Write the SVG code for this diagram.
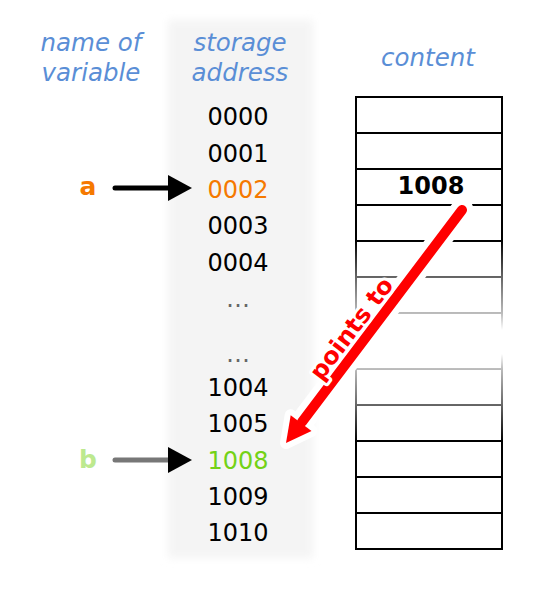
<svg xmlns="http://www.w3.org/2000/svg" width="541" height="600" viewBox="0 0 541 600">
<style>
.hdr{font-family:"DejaVu Sans",sans-serif;font-style:italic;font-size:24.5px;fill:#5a8ed6;text-anchor:middle}
.addr{font-family:"DejaVu Sans",sans-serif;font-size:24px;fill:#000;text-anchor:middle}
.cell{fill:none;stroke:#000;stroke-width:2}
.lbl{font-family:"DejaVu Sans",sans-serif;font-weight:bold;font-size:24px;text-anchor:middle}
</style>
<defs>
<filter id="blur" x="-20%" y="-5%" width="140%" height="110%"><feGaussianBlur stdDeviation="4"/></filter>
<linearGradient id="fade" gradientUnits="userSpaceOnUse" x1="0" y1="0" x2="0" y2="600">
<stop offset="0" stop-color="#fff"/>
<stop offset="0.40" stop-color="#fff"/>
<stop offset="0.462" stop-color="#999"/>
<stop offset="0.522" stop-color="#444"/>
<stop offset="0.55" stop-color="#000"/>
<stop offset="0.59" stop-color="#000"/>
<stop offset="0.615" stop-color="#444"/>
<stop offset="0.675" stop-color="#999"/>
<stop offset="0.735" stop-color="#fff"/>
<stop offset="1" stop-color="#fff"/>
</linearGradient>
<mask id="tmask" maskUnits="userSpaceOnUse" x="0" y="0" width="541" height="600">
<rect x="0" y="0" width="541" height="600" fill="url(#fade)"/>
</mask>
</defs>
<rect width="541" height="600" fill="#fff"/>
<rect x="168" y="20" width="145" height="538" fill="#f4f4f4" filter="url(#blur)"/>

<g id="headers">
<text class="hdr" x="91" y="51">name of</text>
<text class="hdr" x="91" y="81">variable</text>
<text class="hdr" x="240" y="51">storage</text>
<text class="hdr" x="240" y="81">address</text>
<text class="hdr" x="428" y="66">content</text>
</g>

<g id="addresses">
<text class="addr" x="238" y="125">0000</text>
<text class="addr" x="238" y="161.5">0001</text>
<text class="addr" x="238" y="198" style="fill:#f57900">0002</text>
<text class="addr" x="238" y="234">0003</text>
<text class="addr" x="238" y="270.5">0004</text>
<text class="addr" x="238" y="307" style="fill:#666">…</text>
<text class="addr" x="238" y="362" style="fill:#666">…</text>
<text class="addr" x="238" y="396">1004</text>
<text class="addr" x="238" y="432">1005</text>
<text class="addr" x="238" y="468.5" style="fill:#73d216">1008</text>
<text class="addr" x="238" y="504.5">1009</text>
<text class="addr" x="238" y="540.5">1010</text>
</g>

<g id="table" mask="url(#tmask)">
<rect class="cell" x="356" y="97" width="146" height="452"/>
<path class="cell" d="M356 133H502M356 169H502M356 205H502M356 241H502M356 277H502M356 313H502M356 369H502M356 405H502M356 441H502M356 477H502M356 513H502"/>
</g>
<text id="value" class="lbl" x="431" y="194" style="fill:#000">1008</text>

<g id="var-a">
<text class="lbl" x="88" y="195" style="fill:#f57900;font-size:25px">a</text>
</g>
<g id="var-b">
<text class="lbl" x="88" y="468" style="fill:#bde98f;font-size:25px">b</text>
</g>

<g id="connectors">
<line x1="115" y1="188" x2="172" y2="188" stroke="#000" stroke-width="5" stroke-linecap="round"/>
<polygon points="168,175 192,188 168,201" fill="#000"/>
<line x1="115" y1="460" x2="172" y2="460" stroke="#777" stroke-width="5" stroke-linecap="round"/>
<polygon points="168,447 192,460 168,473" fill="#000"/>
<g id="points-to">
<line x1="462" y1="210" x2="301" y2="423" stroke="#fff" stroke-width="23" stroke-linecap="round"/>
<polygon points="286,443 311.5,430.9 290.7,415.2" fill="#fff" stroke="#fff" stroke-width="12" stroke-linejoin="round"/>
<line x1="462" y1="210" x2="302" y2="422" stroke="#f00" stroke-width="10" stroke-linecap="round"/>
<polygon points="286,443 311.5,430.9 290.7,415.2" fill="#f00"/>
<text class="lbl" x="0" y="0" transform="translate(358,333.5) rotate(-52.9)" style="fill:#f00;stroke:#fff;stroke-width:6px;stroke-linejoin:round;paint-order:stroke">points to</text>
</g>
</g>
</svg>
